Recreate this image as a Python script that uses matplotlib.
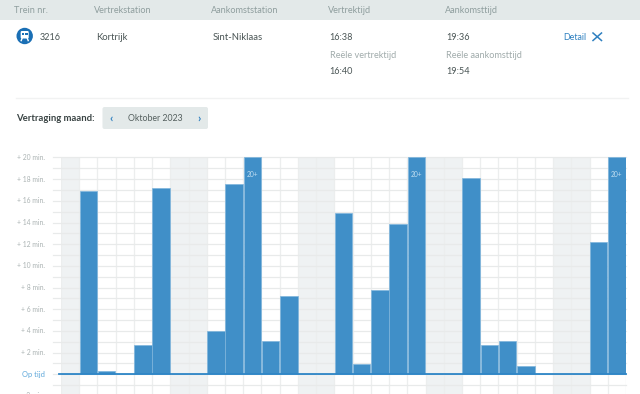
import matplotlib
matplotlib.use('Agg')
import matplotlib.pyplot as plt
from matplotlib.patches import Circle, FancyBboxPatch, Rectangle

plt.rcParams['font.family'] = ['Lato', 'DejaVu Sans']

W, H = 640, 394

# delay per day, oktober 2023 (20 = capped, shown as 20+)
dagen = list(range(1, 32))
vertraging = [0, 16.9, 0.33, 0, 2.7, 17.15, 0, 0, 3.97, 17.55, 20, 3.07, 7.2, 0, 0,
              14.9, 0.98, 7.8, 13.83, 20, 0, 0, 18.08, 2.73, 3.07, 0.8, 0, 0, 0, 12.18, 20]
weekend = [1, 7, 8, 14, 15, 21, 22, 28, 29]
y_ticks = [20, 18, 16, 14, 12, 10, 8, 6, 4, 2]
minuten = list(range(-1, 21))

kop_labels = ['Trein nr.', 'Vertrekstation', 'Aankomststation', 'Vertrektijd', 'Aankomsttijd']
kop_x = [14, 93.5, 210.5, 327.5, 444.5]

blauw = '#408FC8'
lijn = '#2F86C6'
grijs = '#EFF2F3'
kop = '#E3E9E9'

fig = plt.figure(figsize=(W / 100, H / 100), dpi=100, facecolor='white')

# page stuff in pixel coords
bg = fig.add_axes([0, 0, 1, 1])
bg.set_xlim(0, W)
bg.set_ylim(H, 0)
bg.axis('off')

bg.add_patch(Rectangle((0, 0), W, 20, fc=kop, ec='none'))
for t, x in zip(kop_labels, kop_x):
    bg.text(x, 10, t, fontsize=6.6, color='#8F9E9E', va='center')

# train icon
bg.add_patch(Circle((24.7, 36), 8.2, fc='#1A6FB5', ec='none'))
bg.add_patch(FancyBboxPatch((20.7, 31), 8, 7.5, boxstyle='round,pad=0,rounding_size=1.2', fc='white', ec='none'))
bg.add_patch(Rectangle((21.7, 32.6), 2.5, 2.6, fc='#1A6FB5', ec='none'))
bg.add_patch(Rectangle((25.2, 32.6), 2.5, 2.6, fc='#1A6FB5', ec='none'))
bg.plot([22, 21.2], [38.5, 40.6], color='white', lw=1)
bg.plot([27.4, 28.2], [38.5, 40.6], color='white', lw=1)

rij = '#4A5555'
bg.text(40, 37, '3216', fontsize=6.5, color=rij, va='center')
bg.text(96, 37, 'Kortrijk', fontsize=6.8, color=rij, va='center')
bg.text(212.5, 37, 'Sint-Niklaas', fontsize=6.8, color=rij, va='center')
bg.text(329.5, 37, '16:38', fontsize=6.6, color=rij, va='center')
bg.text(446.5, 37, '19:36', fontsize=6.6, color=rij, va='center')
bg.text(329.5, 55.5, 'Reële vertrektijd', fontsize=6.6, color='#A0ABAB', va='center')
bg.text(446.5, 55.5, 'Reële aankomsttijd', fontsize=6.6, color='#A0ABAB', va='center')
bg.text(329.5, 71.5, '16:40', fontsize=6.6, color=rij, va='center')
bg.text(446.5, 71.5, '19:54', fontsize=6.6, color=rij, va='center')
bg.text(563.5, 37.5, 'Detail', fontsize=6.4, color='#2F80C0', va='center')
bg.plot([593, 601.5], [33, 40.5], color='#2F80C0', lw=1.1)
bg.plot([593, 601.5], [40.5, 33], color='#2F80C0', lw=1.1)

bg.plot([16, 628], [97.5, 97.5], color='#F1F2F2', lw=1)

bg.text(16, 118.5, 'Vertraging maand:', fontsize=6.8, fontweight='bold', color='#3A4444', va='center')
bg.add_patch(FancyBboxPatch((102.5, 107), 105.5, 22, boxstyle='round,pad=0,rounding_size=2', fc=kop, ec='none'))
bg.text(155.5, 118.5, 'Oktober 2023', fontsize=6.3, color='#55605F', va='center', ha='center')
bg.text(111, 118, '‹', fontsize=8.5, color='#2F80C0', va='center', ha='center', fontweight='bold')
bg.text(199, 118, '›', fontsize=8.5, color='#2F80C0', va='center', ha='center', fontweight='bold')

# chart: x 61..626 px, y 157.5 (20 min) .. 374.3 (0 min)
px_per_min = (374.3 - 157.5) / 20
ax = fig.add_axes([61 / W, 0, (626 - 61) / W, (H - 157.5) / H])
ax.set_xlim(0, 31)
ax.set_ylim(-(H - 374.3) / px_per_min, 20)
ax.patch.set_alpha(0)
for s in ax.spines.values():
    s.set_visible(False)
ax.set_xticks([])
ax.set_yticks([])

for d in weekend:
    ax.axvspan(d - 1, d, color=grijs, lw=0, zorder=0)
for d in range(0, 32):
    ax.axvline(d, color='#ECEEEE', lw=0.9, zorder=1)
links = -8.3 / (565 / 31)
for m in minuten:
    ax.plot([links, 31], [m, m], color='#E8EAEA', lw=0.9, zorder=1, clip_on=False)

ax.bar([d - 0.5 for d in dagen], vertraging, width=0.96, color=blauw, edgecolor='#7FB5DC', linewidth=0.5, zorder=3)
ax.plot([-0.13, 31], [0, 0], color=lijn, lw=1.3, zorder=4, clip_on=False)

for d, v in zip(dagen, vertraging):
    if v >= 20:
        ax.text(d - 0.5, 18.45, '20+', fontsize=4.8, color='#BFDCF0', ha='center', va='center', zorder=5)

for v in y_ticks:
    ax.text(-0.89, v, '+ %d min.' % v, fontsize=4.9, color='#ABB3B3', ha='right', va='center', clip_on=False)
ax.text(-0.89, 0, 'Op tijd', fontsize=5.4, color='#5FA8DA', ha='right', va='center', clip_on=False)
# partly below the picture edge, same as the reference
ax.text(-0.89, -2, '- 2 min.', fontsize=4.9, color='#ABB3B3', ha='right', va='center', clip_on=False)

fig.savefig('out.png', dpi=100)
